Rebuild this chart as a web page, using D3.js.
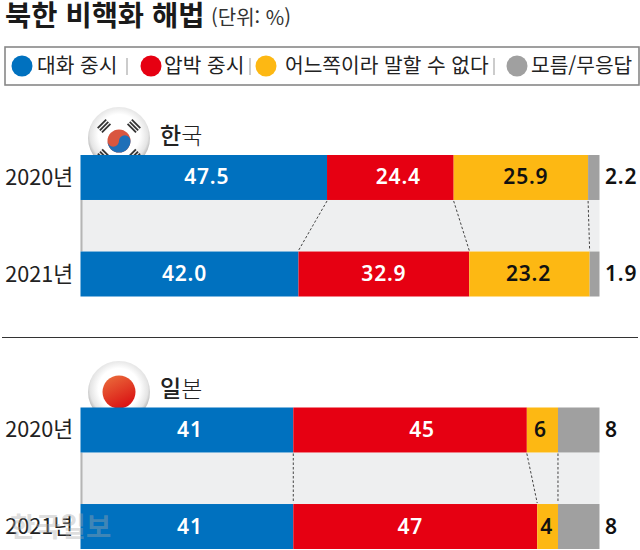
<!DOCTYPE html>
<html lang="ko">
<head>
<meta charset="utf-8">
<script src="https://d3js.org/d3.v7.min.js"></script>
<style>
  html, body { margin: 0; padding: 0; background: #fff; overflow: hidden; }
  svg { display: block; font-family: "Noto Sans CJK KR", sans-serif; }
  .num { font-family: "Noto Sans", sans-serif; font-weight: 600; font-size: 21px; letter-spacing: 0.8px; }
</style>
</head>
<body>
<svg id="chart" width="640" height="550"></svg>
<script>
const legendLabels = ["대화 중시", "압박 중시", "어느쪽이라 말할 수 없다", "모름/무응답"];
const colors = ["#0071bf", "#e60012", "#fdb813", "#a0a0a0"];
const years = ["2020년", "2021년"];

const koreaValues = [[47.5, 24.4, 25.9, 2.2], [42.0, 32.9, 23.2, 1.9]];
const japanValues = [[41, 45, 6, 8], [41, 47, 4, 8]];

let width = 640, height = 550;
let svg = d3.select("#chart");
let defs = svg.append("defs");

// ball behind the flags
let ball = defs.append("radialGradient").attr("id", "ball")
    .attr("cx", "50%").attr("cy", "45%").attr("r", "55%");
ball.append("stop").attr("offset", "0.6").attr("stop-color", "#ffffff");
ball.append("stop").attr("offset", "0.85").attr("stop-color", "#e4e4e4");
ball.append("stop").attr("offset", "1").attr("stop-color", "#a8a8a8");

let sun = defs.append("linearGradient").attr("id", "sun")
    .attr("x1", "0.2").attr("y1", "0").attr("x2", "0.7").attr("y2", "1");
sun.append("stop").attr("offset", "0").attr("stop-color", "#ea6a3a");
sun.append("stop").attr("offset", "1").attr("stop-color", "#d90f12");

const xScale = d3.scaleLinear().domain([0, 100]).range([80.5, 599.5]);

// title
svg.append("text").attr("x", 5).attr("y", 25.5)
    .style("font-size", "28.5px").style("font-weight", 700).attr("fill", "#1a1a1a")
    .text("북한 비핵화 해법");
svg.append("text").attr("x", 211).attr("y", 24.5)
    .style("font-size", "20px").attr("fill", "#333")
    .text("(단위: %)");

// legend
svg.append("rect").attr("x", 5).attr("y", 47).attr("width", 634).attr("height", 38)
    .attr("fill", "#fff").attr("stroke", "#888").attr("stroke-width", 1.6);

const legendDot = [22, 151, 266, 517];
const legendText = [37, 164, 285, 531];
const legendSep = [127, 250, 494];

let legend = svg.append("g");
legend.selectAll("circle").data(legendLabels).enter().append("circle")
    .attr("cx", (d, i) => legendDot[i]).attr("cy", 66).attr("r", 10.5)
    .attr("fill", (d, i) => colors[i]);
legend.selectAll("text").data(legendLabels).enter().append("text")
    .attr("x", (d, i) => legendText[i]).attr("y", 73)
    .style("font-size", "20.3px").attr("fill", "#222")
    .text(d => d);
legend.selectAll("line").data(legendSep).enter().append("line")
    .attr("x1", d => d).attr("x2", d => d).attr("y1", 58).attr("y2", 75)
    .attr("stroke", "#999").attr("stroke-width", 1);

// rule between the two panels
svg.append("line").attr("x1", 2).attr("x2", 638).attr("y1", 337.5).attr("y2", 337.5)
    .attr("stroke", "#333").attr("stroke-width", 1);

function drawFlagBall(g, cx, cy) {
    g.append("circle").attr("cx", cx).attr("cy", cy).attr("r", 31).attr("fill", "url(#ball)");
}

function drawKoreaFlag(g, cx, cy) {
    drawFlagBall(g, cx, cy);
    let r = 11.5, ty = cy + 3;
    g.append("circle").attr("cx", cx).attr("cy", ty).attr("r", r).attr("fill", "#d9563f");
    g.append("path")
        .attr("d", `M${cx - r},${ty} A${r},${r} 0 0 0 ${cx + r},${ty} A${r / 2},${r / 2} 0 0 0 ${cx},${ty} A${r / 2},${r / 2} 0 0 1 ${cx - r},${ty} Z`)
        .attr("fill", "#1e6fb8");
    // trigrams in the four corners
    [[-45, -22], [45, -22], [45, 22], [-45, 22]].forEach(a => {
        let bars = g.append("g")
            .attr("transform", `translate(${cx},${ty}) rotate(${a[0] > 0 === a[1] > 0 ? -45 : 45}) translate(0,${a[1] > 0 ? 21 : -21})`);
        d3.range(3).forEach(k => {
            bars.append("rect").attr("x", -6).attr("y", -4 + k * 3).attr("width", 12).attr("height", 1.8)
                .attr("fill", "#333");
        });
    });
}

function drawJapanFlag(g, cx, cy) {
    drawFlagBall(g, cx, cy);
    g.append("circle").attr("cx", cx).attr("cy", cy).attr("r", 16.5).attr("fill", "url(#sun)");
}

function drawPanel(top, name, values, fmt, drawFlag, flagY, nudges) {
    let g = svg.append("g");

    const yScale = d3.scaleBand().domain(years)
        .range([top, top + 141.5])
        .paddingInner(0.534);

    drawFlag(g, 119, flagY);

    // country name, first syllable heavier
    let title = g.append("text").attr("x", 160).attr("y", top - 11).style("font-size", "23px").attr("fill", "#222");
    title.append("tspan").style("font-weight", 500).text(name[0]);
    title.append("tspan").style("font-weight", 300).text(name[1]);

    // grey band between the two bars
    let bandTop = yScale(years[0]) + yScale.bandwidth();
    let bandBottom = yScale(years[1]);
    g.append("rect").attr("x", xScale(0)).attr("y", bandTop)
        .attr("width", xScale(100) - xScale(0)).attr("height", bandBottom - bandTop)
        .attr("fill", "#eeeff0");
    g.append("line").attr("x1", xScale(0) + 1).attr("x2", xScale(0) + 1).attr("y1", bandTop).attr("y2", bandBottom)
        .attr("stroke", "#b5b5b5").attr("stroke-width", 2);

    let stacked = values.map(row => {
        let sum = 0;
        return row.map((v, i) => {
            let seg = { v: v, i: i, x0: sum, x1: sum + v };
            sum += v;
            return seg;
        });
    });

    stacked.forEach((row, r) => {
        let y = yScale(years[r]);
        let bh = yScale.bandwidth();
        let mid = y + bh / 2;

        g.append("text").attr("x", 73).attr("y", mid + 7.5).attr("text-anchor", "end")
            .style("font-size", "21.6px").attr("fill", "#222")
            .text(years[r]);

        g.selectAll(null).data(row).enter().append("rect")
            .attr("x", d => xScale(d.x0)).attr("y", y)
            .attr("width", d => xScale(d.x1) - xScale(d.x0)).attr("height", bh)
            .attr("fill", d => colors[d.i]);

        g.selectAll(null).data(row).enter().append("text")
            .attr("class", "num")
            .attr("text-anchor", d => d.i === 3 ? "start" : "middle")
            .attr("x", d => d.i === 3 ? 605 : (xScale(d.x0) + xScale(d.x1)) / 2 + nudges[r][d.i])
            .attr("y", mid + 7)
            .attr("fill", d => d.i < 2 ? "#fff" : "#111")
            .text(d => fmt(d.v));
    });

    // dotted connectors between segment ends
    d3.range(3).forEach(i => {
        g.append("line")
            .attr("x1", xScale(stacked[0][i].x1)).attr("y1", bandTop + 1)
            .attr("x2", xScale(stacked[1][i].x1)).attr("y2", bandBottom - 1)
            .attr("stroke", "#444").attr("stroke-width", 1).attr("stroke-dasharray", "2.5 2");
    });
}

drawPanel(155, "한국", koreaValues, d3.format(".1f"), drawKoreaFlag, 138,
    [[3, 8, 5, 0], [-5, 0, -1, 0]]);
drawPanel(407.5, "일본", japanValues, d3.format("d"), drawJapanFlag, 392,
    [[3, 12, -2, 0], [3, -5, -1, 0]]);

// newspaper watermark
svg.append("text").attr("x", 10).attr("y", 537)
    .style("font-size", "27.5px").style("font-weight", 700)
    .attr("fill", "#a9a9a9").attr("fill-opacity", 0.4)
    .text("한국일보");
</script>
</body>
</html>
